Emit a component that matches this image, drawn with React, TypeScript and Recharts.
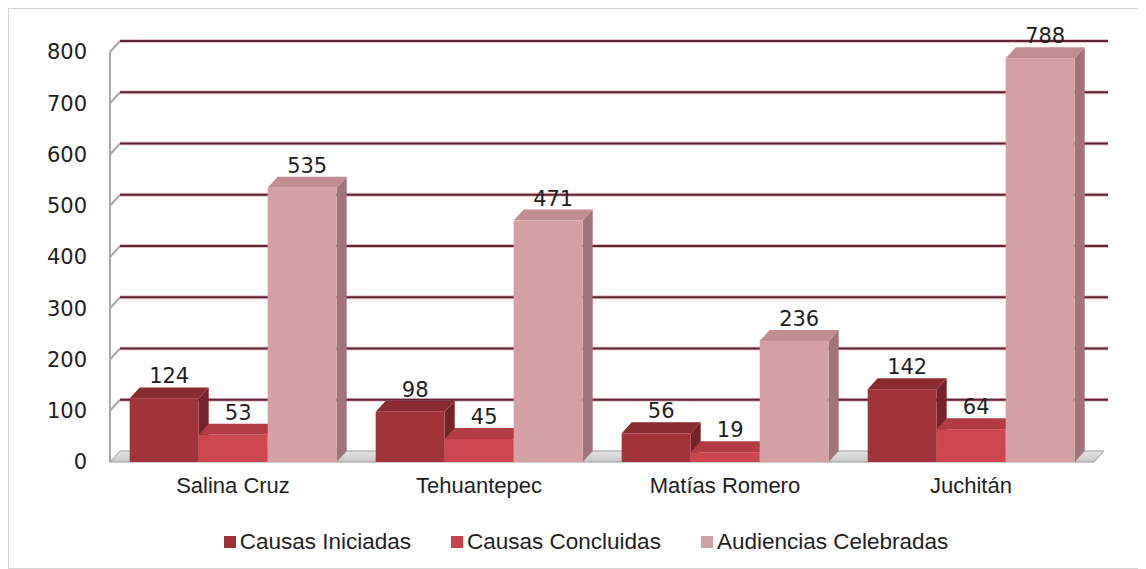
import React from 'react';
import { BarChart, Bar, XAxis, YAxis, CartesianGrid, Legend, LabelList } from 'recharts';

const categories = ['Salina Cruz', 'Tehuantepec', 'Matías Romero', 'Juchitán'];
const causasIniciadas = [124, 98, 56, 142];
const causasConcluidas = [53, 45, 19, 64];
const audienciasCelebradas = [535, 471, 236, 788];
const yTicks = [0, 100, 200, 300, 400, 500, 600, 700, 800];
const seriesNames = ['Causas Iniciadas', 'Causas Concluidas', 'Audiencias Celebradas'];

const data = categories.map((c, i) => ({
  name: c,
  iniciadas: causasIniciadas[i],
  concluidas: causasConcluidas[i],
  audiencias: audienciasCelebradas[i],
}));

const DX = 10;
const DY = -11;

const palette = [
  { front: '#a3333b', top: '#8a2a31', side: '#74232a', legend: '#9c2f37' },
  { front: '#cc4650', top: '#b23b44', side: '#98323a', legend: '#c4424c' },
  { front: '#d5a0a4', top: '#c28d92', side: '#a27479', legend: '#d0a0a5' },
];

const make3D = (c: { front: string; top: string; side: string }) => (props: any) => {
  const { x, y, width, height } = props;
  if (!height || height <= 0) return null;
  return (
    <g>
      <polygon
        points={`${x + width},${y} ${x + width + DX},${y + DY} ${x + width + DX},${y + height + DY} ${x + width},${y + height}`}
        fill={c.side}
      />
      <polygon
        points={`${x},${y} ${x + DX},${y + DY} ${x + width + DX},${y + DY} ${x + width},${y}`}
        fill={c.top}
      />
      <rect x={x} y={y} width={width} height={height} fill={c.front} />
    </g>
  );
};

const renderLabel = (props: any) => {
  const { x, y, width, value } = props;
  return (
    <text
      x={x + width / 2 + DX / 2}
      y={y + DY - 4}
      textAnchor="middle"
      fontFamily="DejaVu Sans, sans-serif"
      fontSize={21}
      fill="#1e1e1e"
    >
      {value}
    </text>
  );
};

const gridLine = (props: any) => {
  const { x1, y1, x2, y, height, index } = props;
  const isBottom = Math.abs(y1 - (y + height)) < 1;
  if (isBottom) {
    return (
      <g key={`g-${index}`}>
        <line x1={x1} y1={y} x2={x1} y2={y1} stroke="#a8a8a8" strokeWidth={2} />
        <polygon
          points={`${x1},${y1} ${x2},${y1} ${x2 + DX},${y1 + DY} ${x1 + DX},${y1 + DY}`}
          fill="url(#floorGrad)"
          stroke="#9a9a9a"
          strokeWidth={1}
        />
      </g>
    );
  }
  return (
    <g key={`g-${index}`}>
      <line x1={x1} y1={y1} x2={x1 + DX} y2={y1 + DY} stroke="#a8a8a8" strokeWidth={2} />
      <line x1={x1 + DX} y1={y1 + DY} x2={x2 + DX + 4} y2={y1 + DY} stroke="#e8c4cc" strokeWidth={4} />
      <line x1={x1 + DX} y1={y1 + DY} x2={x2 + DX + 4} y2={y1 + DY} stroke="#5e2232" strokeWidth={2} />
    </g>
  );
};

const renderLegend = () => (
  <div
    style={{
      display: 'flex',
      justifyContent: 'center',
      paddingLeft: 20,
      fontFamily: 'Liberation Sans, Arial, sans-serif',
      fontSize: 22.5,
      color: '#1e1e1e',
      lineHeight: '26px',
    }}
  >
    {seriesNames.map((n, i) => (
      <div key={n} style={{ display: 'flex', alignItems: 'center', marginRight: i < 2 ? 40 : 0 }}>
        <span
          style={{
            display: 'inline-block',
            width: 12,
            height: 12,
            background: palette[i].legend,
            marginRight: 4,
          }}
        />
        <span>{n}</span>
      </div>
    ))}
  </div>
);

export default function App() {
  return (
    <div
      style={{
        width: 1134,
        height: 559,
        border: '1px solid #d6d6d6',
        background: '#fff',
        position: 'relative',
      }}
    >
      <BarChart
        width={1134}
        height={559}
        data={data}
        margin={{ top: 43, right: 49, left: 0, bottom: 66 }}
        barCategoryGap="8%"
        barGap={0}
      >
        <defs>
          <linearGradient id="floorGrad" x1="0" y1="0" x2="0" y2="1">
            <stop offset="0%" stopColor="#e4e4e4" />
            <stop offset="100%" stopColor="#c8c8c8" />
          </linearGradient>
        </defs>
        <CartesianGrid vertical={false} horizontal={gridLine} />
        <XAxis
          dataKey="name"
          axisLine={false}
          tickLine={false}
          height={40}
          tickMargin={9}
          tick={{ fontFamily: 'Liberation Sans, Arial, sans-serif', fontSize: 22, fill: '#1e1e1e' }}
        />
        <YAxis
          domain={[0, 800]}
          ticks={yTicks}
          width={101}
          axisLine={false}
          tickLine={false}
          tickMargin={17}
          tick={{ fontFamily: 'DejaVu Sans, sans-serif', fontSize: 21, fill: '#1e1e1e' }}
        />
        <Legend
          layout="horizontal"
          verticalAlign="middle"
          align="center"
          content={renderLegend}
          wrapperStyle={{ top: 520, left: 0, width: 1134 }}
        />
        <Bar dataKey="iniciadas" name={seriesNames[0]} shape={make3D(palette[0])} isAnimationActive={false}>
          <LabelList dataKey="iniciadas" content={renderLabel} />
        </Bar>
        <Bar dataKey="concluidas" name={seriesNames[1]} shape={make3D(palette[1])} isAnimationActive={false}>
          <LabelList dataKey="concluidas" content={renderLabel} />
        </Bar>
        <Bar dataKey="audiencias" name={seriesNames[2]} shape={make3D(palette[2])} isAnimationActive={false}>
          <LabelList dataKey="audiencias" content={renderLabel} />
        </Bar>
      </BarChart>
    </div>
  );
}
